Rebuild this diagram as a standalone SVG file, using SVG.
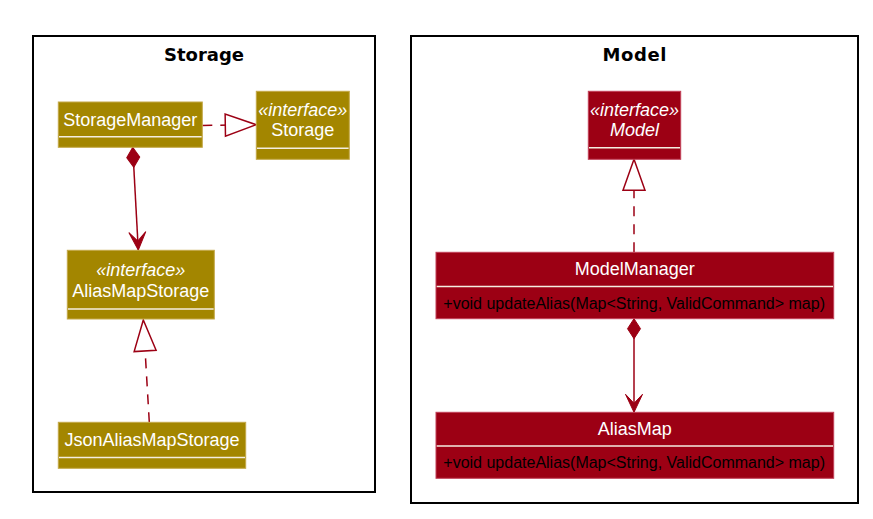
<svg xmlns="http://www.w3.org/2000/svg" width="873" height="519" viewBox="0 0 873 519">
<style>
.pkg{fill:none;stroke:#000;stroke-width:2}
.ptitle{font-family:"DejaVu Sans",sans-serif;font-weight:bold;font-size:18px;fill:#000;text-anchor:middle}
.gold{fill:#A38600;stroke:#C4A848;stroke-width:1}
.red{fill:#9C0014;stroke:#C24058;stroke-width:1}
.sep{stroke:#F4EDE0;stroke-width:1.5}
.name{font-family:"Liberation Sans",Arial,sans-serif;font-size:18px;fill:#fff;text-anchor:middle}
.ster{font-family:"Liberation Sans",Arial,sans-serif;font-size:18px;font-style:italic;fill:#fff;text-anchor:middle}
.meth{font-family:"Liberation Sans",Arial,sans-serif;font-size:16px;fill:#000}
.conn{fill:none;stroke:#9C0014;stroke-width:1.5}
.dash{stroke-dasharray:10 8}
</style>
<defs>
<marker id="vee" markerUnits="userSpaceOnUse" viewBox="-20 -10 22 20" refX="0" refY="0" markerWidth="22" markerHeight="20" orient="auto">
<path d="M0,0 L-18,-8.5 L-9,0 L-18,8.5 Z" fill="#9C0014" stroke="#9C0014" stroke-width="1"/>
</marker>
<marker id="diamond" markerUnits="userSpaceOnUse" viewBox="-1 -8 23 16" refX="0" refY="0" markerWidth="23" markerHeight="16" orient="auto">
<path d="M0,0 L10,-6.5 L20,0 L10,6.5 Z" fill="#9C0014" stroke="#9C0014" stroke-width="1"/>
</marker>
<marker id="tri" markerUnits="userSpaceOnUse" viewBox="-33 -13 35 26" refX="0" refY="0" markerWidth="35" markerHeight="26" orient="auto">
<path d="M0,0 L-31,-11 L-31,11 Z" fill="#fff" stroke="#9C0014" stroke-width="1.5" stroke-dasharray="none"/>
</marker>
</defs>
<rect width="873" height="519" fill="#fff"/>

<g id="pkg-storage">
<rect class="pkg" x="33" y="36" width="342" height="456"/>
<text class="ptitle" x="204" y="60.5">Storage</text>
</g>
<g id="pkg-model">
<rect class="pkg" x="411" y="36" width="447" height="467"/>
<text class="ptitle" x="634.5" y="60.5" textLength="64">Model</text>
</g>

<g id="connectors">
<path class="conn dash" d="M202.3,125.5 L256.3,124.7" marker-end="url(#tri)"/>
<path class="conn" d="M132.7,147.3 L138.3,250" marker-start="url(#diamond)" marker-end="url(#vee)"/>
<path class="conn dash" d="M149.3,422.3 L143.3,320" marker-end="url(#tri)"/>
<path class="conn dash" d="M634,252.3 L634,159.3" marker-end="url(#tri)"/>
<path class="conn" d="M634,318.7 L634,412.3" marker-start="url(#diamond)" marker-end="url(#vee)"/>
</g>

<g id="StorageManager">
<rect class="gold" x="58.3" y="102" width="144" height="45.3"/>
<line class="sep" x1="59" y1="136.7" x2="201.6" y2="136.7"/>
<text class="name" x="130.3" y="125.7">StorageManager</text>
</g>

<g id="Storage">
<rect class="gold" x="256.3" y="91.3" width="93" height="68"/>
<line class="sep" x1="257" y1="148.3" x2="348.6" y2="148.3"/>
<text class="ster" x="302.8" y="116">«interface»</text>
<text class="name" x="302.8" y="136">Storage</text>
</g>

<g id="AliasMapStorage">
<rect class="gold" x="67.3" y="250.3" width="147" height="68.7"/>
<line class="sep" x1="68" y1="309" x2="213.6" y2="309"/>
<text class="ster" x="140.8" y="276">«interface»</text>
<text class="name" x="140.8" y="296.7">AliasMapStorage</text>
</g>

<g id="JsonAliasMapStorage">
<rect class="gold" x="58.3" y="422.3" width="187.4" height="46"/>
<line class="sep" x1="59" y1="457.5" x2="245" y2="457.5"/>
<text class="name" x="152" y="445.7">JsonAliasMapStorage</text>
</g>

<g id="Model">
<rect class="red" x="588.3" y="91.3" width="92.4" height="68"/>
<line class="sep" x1="589" y1="147.7" x2="680" y2="147.7"/>
<text class="ster" x="634.5" y="116">«interface»</text>
<text class="ster" x="634.5" y="136">Model</text>
</g>

<g id="ModelManager">
<rect class="red" x="436" y="252.3" width="397.7" height="66.4"/>
<line class="sep" x1="436.7" y1="286.5" x2="833" y2="286.5"/>
<text class="name" x="634.8" y="275">ModelManager</text>
<text class="meth" x="443.3" y="309.3">+void updateAlias(Map&lt;String, ValidCommand&gt; map)</text>
</g>

<g id="AliasMap">
<rect class="red" x="436" y="412.3" width="397.7" height="66"/>
<line class="sep" x1="436.7" y1="446" x2="833" y2="446"/>
<text class="name" x="634.8" y="435">AliasMap</text>
<text class="meth" x="443.3" y="468.3">+void updateAlias(Map&lt;String, ValidCommand&gt; map)</text>
</g>
</svg>
